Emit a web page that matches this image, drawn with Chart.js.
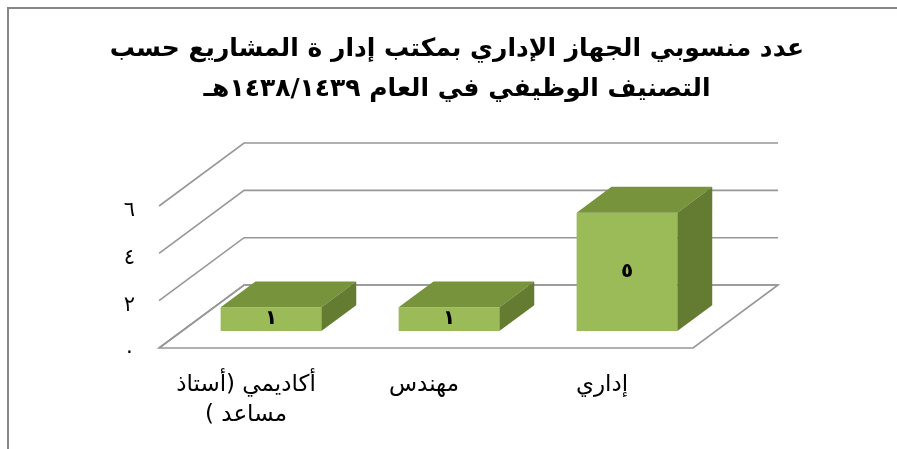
<!DOCTYPE html>
<html lang="ar">
<head>
<meta charset="utf-8">
<script src="https://cdn.jsdelivr.net/npm/chart.js@4.4.1/dist/chart.umd.min.js"></script>
<style>
  html, body { margin: 0; padding: 0; background: #fff; }
</style>
</head>
<body>
<canvas id="chart" width="897" height="449" dir="rtl"></canvas>
<script>
const categories  = [['أكاديمي (أستاذ', 'مساعد )'], 'مهندس', 'إداري'];
const staffCounts = [1, 1, 5];
const yTicks      = [0, 2, 4, 6];
const titleLines  = [
  'عدد منسوبي الجهاز الإداري بمكتب إدار ة المشاريع حسب',
  'التصنيف الوظيفي في العام ١٤٣٨/١٤٣٩هـ'
];

const AR_DIGITS = '٠١٢٣٤٥٦٧٨٩';
const toArabic  = n => String(n).replace(/\d/g, d => AR_DIGITS[d]);

// fake 3d: full depth of the floor, bars sit FRONT of the way back
const DEPTH     = { dx: 85, dy: -63 };
const FRONT     = 0.27;
const BAR_DEPTH = 0.41;

const box3d = {
  id: 'box3d',
  beforeDatasetsDraw(chart) {
    const { ctx, chartArea: a, scales: { y } } = chart;
    const fx = -FRONT * DEPTH.dx, fy = -FRONT * DEPTH.dy;
    const bx = (1 - FRONT) * DEPTH.dx, by = (1 - FRONT) * DEPTH.dy;
    const y0 = y.getPixelForValue(0);
    ctx.save();
    ctx.strokeStyle = '#979797';
    ctx.lineWidth = 1.6;
    // floor
    ctx.beginPath();
    ctx.moveTo(a.left + fx, y0 + fy);
    ctx.lineTo(a.right + fx, y0 + fy);
    ctx.lineTo(a.right + bx, y0 + by);
    ctx.lineTo(a.left + bx, y0 + by);
    ctx.closePath();
    ctx.fillStyle = '#fff';
    ctx.fill();
    ctx.stroke();
    // side wall + back wall gridlines
    yTicks.forEach(v => {
      const py = y.getPixelForValue(v);
      ctx.beginPath();
      ctx.moveTo(a.left + fx, py + fy);
      ctx.lineTo(a.left + bx, py + by);
      ctx.lineTo(a.right + bx, py + by);
      ctx.stroke();
    });
    ctx.restore();
  },
  afterDatasetsDraw(chart) {
    const { ctx } = chart;
    const dx = BAR_DEPTH * DEPTH.dx, dy = BAR_DEPTH * DEPTH.dy;
    ctx.save();
    chart.getDatasetMeta(0).data.forEach((bar, i) => {
      const { x, y, base, width } = bar.getProps(['x', 'y', 'base', 'width'], true);
      const l = x - width / 2, r = x + width / 2;
      ctx.fillStyle = '#77933c';
      ctx.beginPath();
      ctx.moveTo(l, y); ctx.lineTo(r, y); ctx.lineTo(r + dx, y + dy); ctx.lineTo(l + dx, y + dy);
      ctx.closePath();
      ctx.fill();
      ctx.fillStyle = '#637c32';
      ctx.beginPath();
      ctx.moveTo(r, y); ctx.lineTo(r + dx, y + dy); ctx.lineTo(r + dx, base + dy); ctx.lineTo(r, base);
      ctx.closePath();
      ctx.fill();
      ctx.fillStyle = '#000';
      ctx.font = 'bold 20px "DejaVu Sans"';
      ctx.textAlign = 'center';
      ctx.textBaseline = 'middle';
      ctx.fillText(toArabic(staffCounts[i]), x, (y + base) / 2);
    });
    ctx.restore();
  },
  afterDraw(chart) {
    const { ctx } = chart;
    ctx.save();
    // title
    ctx.direction = 'rtl';
    ctx.fillStyle = '#000';
    ctx.font = 'bold 25px "DejaVu Sans"';
    ctx.textAlign = 'center';
    ctx.textBaseline = 'middle';
    titleLines.forEach((t, i) => ctx.fillText(t, 457, 49 + i * 40));
    // frame
    ctx.strokeStyle = '#868686';
    ctx.lineWidth = 2;
    ctx.beginPath();
    ctx.moveTo(8, 449); ctx.lineTo(8, 8); ctx.lineTo(897, 8);
    ctx.stroke();
    ctx.restore();
  }
};

new Chart(document.getElementById('chart'), {
  type: 'bar',
  data: {
    labels: categories,
    datasets: [{
      data: staffCounts,
      backgroundColor: '#9bbb59',
      borderWidth: 0,
      barPercentage: 0.566,
      categoryPercentage: 1
    }]
  },
  options: {
    responsive: false,
    animation: false,
    layout: { padding: { left: 122, right: 181, top: 189, bottom: 21 } },
    plugins: { legend: { display: false }, tooltip: { enabled: false }, title: { display: false } },
    scales: {
      x: {
        grid: { display: false, drawTicks: false }, border: { display: false },
        ticks: { color: '#000', font: { family: 'DejaVu Sans', size: 23, lineHeight: 30 / 23 },
                 padding: 39, labelOffset: -25, maxRotation: 0, autoSkip: false },
        afterFit: s => { s.height = 97; }
      },
      y: {
        min: 0, max: 6,
        grid: { display: false, drawTicks: false }, border: { display: false },
        ticks: { stepSize: 2, color: '#000', font: { family: 'DejaVu Sans', size: 21 },
                 padding: 47, labelOffset: 22, callback: v => toArabic(v) },
        afterFit: s => { s.width = 60; }
      }
    }
  },
  plugins: [box3d]
});
</script>
</body>
</html>
